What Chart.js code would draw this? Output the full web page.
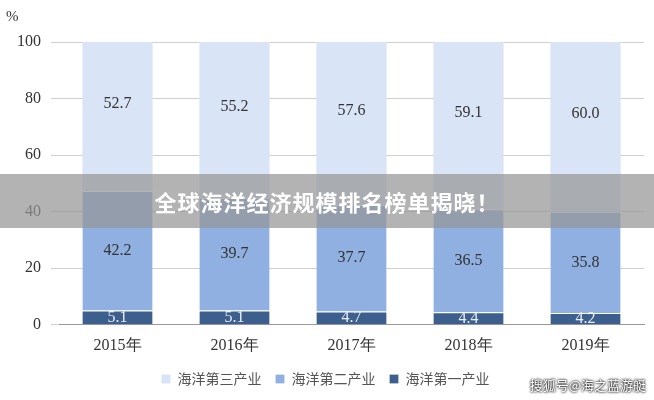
<!DOCTYPE html>
<html><head><meta charset="utf-8">
<script src="https://cdn.jsdelivr.net/npm/chart.js@4"></script>
<style>
body{margin:0;background:#fff;}
#wrap{position:relative;width:654px;height:400px;}
#banner{position:absolute;left:0;top:174px;width:654px;height:54px;background:rgba(150,150,150,0.72);color:#fff;font:bold 22px "Noto Sans CJK SC";text-align:center;line-height:54px;letter-spacing:1px;}
#wm{position:absolute;right:8px;bottom:6px;color:#fff;font:13px "Noto Sans CJK SC";text-shadow:0 0 3px #000,0 0 2px #000;}
#pct{position:absolute;left:6px;top:8px;font:15px "Liberation Serif";color:#333;}
</style></head><body>
<div id="wrap"><canvas id="c" width="654" height="400"></canvas>
<div id="pct">%</div>
<div id="banner">全球海洋经济规模排名榜单揭晓！</div>
<div id="wm">搜狐号@海之蓝游艇</div></div>
<script>
const categories=["2015年","2016年","2017年","2018年","2019年"];
const primary=[5.1,5.1,4.7,4.4,4.2];
const secondary=[42.2,39.7,37.7,36.5,35.8];
const tertiary=[52.7,55.2,57.6,59.1,60.0];
const yTicks=[0,20,40,60,80,100];
const labelPlugin={id:'lbl',afterDatasetsDraw(ch){const ctx=ch.ctx;ctx.save();ctx.font='16px "Liberation Serif"';ctx.textAlign='center';ctx.textBaseline='middle';
ch.data.datasets.forEach((ds,i)=>{ch.getDatasetMeta(i).data.forEach((b,j)=>{ctx.fillStyle=i===0?'#e8eef8':'#333';const y=(b.y+b.base)/2;ctx.fillText(ds.data[j].toFixed(1),b.x,y+(i===2?-13:0));});});ctx.restore();}};
new Chart(document.getElementById('c'),{type:'bar',
data:{labels:categories,datasets:[
{label:'海洋第一产业',data:primary,backgroundColor:'#3d5f8e',borderColor:'#fff',borderWidth:{top:1}},
{label:'海洋第二产业',data:secondary,backgroundColor:'#8fb0e0',borderColor:'#fff',borderWidth:{top:1}},
{label:'海洋第三产业',data:tertiary,backgroundColor:'#d9e5f7',borderColor:'#fff',borderWidth:0}]},
options:{responsive:false,animation:false,layout:{padding:{top:42,right:10,left:7,bottom:4}},
datasets:{bar:{categoryPercentage:0.6,barPercentage:1}},
scales:{x:{stacked:true,grid:{display:false},border:{color:'#999'},ticks:{color:'#333',font:{family:'Liberation Serif',size:16}}},
y:{stacked:true,min:0,max:100,afterBuildTicks(a){a.ticks=yTicks.map(v=>({value:v}));},grid:{color:'#d0d0d0'},border:{display:false},ticks:{color:'#333',padding:10,font:{family:'Liberation Serif',size:16}}}},
plugins:{tooltip:{enabled:false},legend:{position:'bottom',reverse:true,labels:{boxWidth:9,boxHeight:9,color:'#555',font:{family:'Noto Sans CJK SC',size:14},padding:14}}}},
plugins:[labelPlugin]});
</script></body></html>
